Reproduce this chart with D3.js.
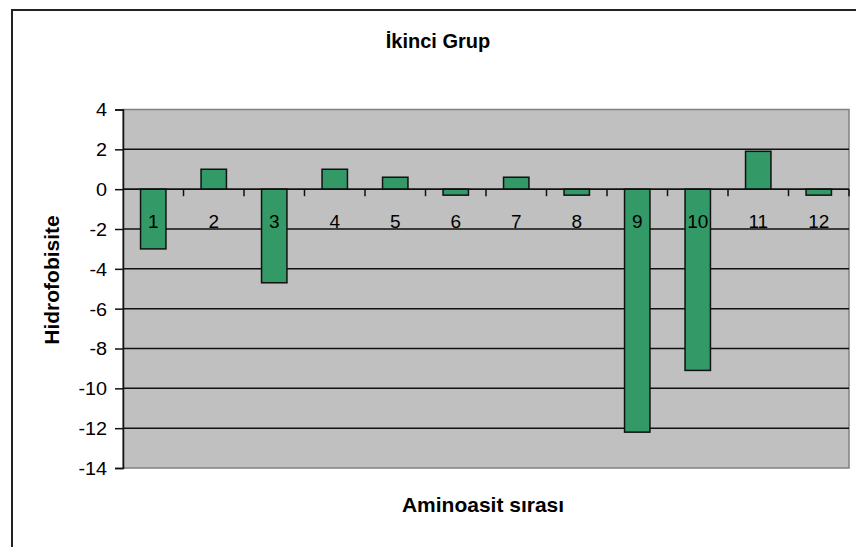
<!DOCTYPE html>
<html>
<head>
<meta charset="utf-8">
<script src="https://cdn.jsdelivr.net/npm/d3@7"></script>
<style>
  html, body { margin: 0; padding: 0; background: #fff; }
  svg { display: block; }
  text { font-family: "Liberation Sans", Arial, sans-serif; fill: #000; }
</style>
</head>
<body>
<svg id="chart" width="856" height="547"></svg>
<script>
// Hydrophobicity per amino-acid position
const positions = ["1", "2", "3", "4", "5", "6", "7", "8", "9", "10", "11", "12"];
const hydrophobicity = [-3.0, 1.0, -4.7, 1.0, 0.6, -0.3, 0.6, -0.3, -12.2, -9.1, 1.9, -0.3];
const yTicks = [4, 2, 0, -2, -4, -6, -8, -10, -12, -14];

const chartTitle = "İkinci Grup";
const xTitle = "Aminoasit sırası";
const yTitle = "Hidrofobisite";

const svg = d3.select("#chart");
const W = 856, H = 547;
const plot = { left: 123, right: 849, top: 109.5, bottom: 468 };

// outer chart frame (runs off the right/bottom edge)
svg.append("rect")
  .attr("x", 12).attr("y", 10)
  .attr("width", W).attr("height", H)
  .attr("fill", "#fff")
  .attr("stroke", "#222").attr("stroke-width", 2);

const x = d3.scaleBand()
  .domain(positions)
  .range([plot.left, plot.right])
  .paddingInner(0.58).paddingOuter(0.29);

const xCat = d3.scaleBand().domain(positions).range([plot.left, plot.right]);

const y = d3.scaleLinear()
  .domain([-14, 4])
  .range([plot.bottom, plot.top]);

// plot area background
svg.append("rect")
  .attr("x", plot.left).attr("y", plot.top)
  .attr("width", plot.right - plot.left).attr("height", plot.bottom - plot.top)
  .attr("fill", "#c0c0c0")
  .attr("stroke", "#808080").attr("stroke-width", 1.5);

// horizontal gridlines
svg.append("g")
  .selectAll("line")
  .data(yTicks.filter(d => d !== -14 && d !== 4))
  .join("line")
  .attr("x1", plot.left).attr("x2", plot.right)
  .attr("y1", d => y(d)).attr("y2", d => y(d))
  .attr("stroke", "#111").attr("stroke-width", 1.5);

// bars
svg.append("g")
  .selectAll("rect")
  .data(positions.map((p, i) => ({ p, v: hydrophobicity[i] })))
  .join("rect")
  .attr("x", d => x(d.p))
  .attr("width", x.bandwidth())
  .attr("y", d => y(Math.max(0, d.v)))
  .attr("height", d => Math.abs(y(d.v) - y(0)))
  .attr("fill", "#339966")
  .attr("stroke", "#111").attr("stroke-width", 1.5);

// y axis (plain hyphen for negatives)
const yAxis = svg.append("g")
  .attr("transform", `translate(${plot.left},0)`)
  .call(d3.axisLeft(y).tickValues(yTicks).tickSize(8).tickPadding(8).tickFormat(d => String(d)));
yAxis.select(".domain").attr("stroke", "#111").attr("stroke-width", 1.5);
yAxis.selectAll(".tick line").attr("stroke", "#111").attr("stroke-width", 1.5);
yAxis.selectAll(".tick text")
  .attr("font-size", 18)
  .attr("font-family", "Liberation Sans, Arial, sans-serif")
  .attr("fill", "#000")
  .attr("dy", "0.36em");
yAxis.selectAll(".tick text").each(function() {
  const t = d3.select(this);
  const len = this.getComputedTextLength();
  t.attr("textLength", len * 1.1).attr("lengthAdjust", "spacingAndGlyphs");
});

// x axis along zero, ticks at category boundaries
const boundaries = positions.slice(1).map(p => xCat(p));
svg.append("line")
  .attr("x1", plot.left).attr("x2", plot.right)
  .attr("y1", y(0)).attr("y2", y(0))
  .attr("stroke", "#111").attr("stroke-width", 1.5);
svg.append("g")
  .selectAll("line")
  .data(boundaries.concat([plot.right]))
  .join("line")
  .attr("x1", d => d).attr("x2", d => d)
  .attr("y1", y(0)).attr("y2", y(0) + 7)
  .attr("stroke", "#111").attr("stroke-width", 1.5);

// category labels
svg.append("g")
  .selectAll("text")
  .data(positions)
  .join("text")
  .attr("x", d => xCat(d) + xCat.bandwidth() / 2)
  .attr("y", y(-2) - 1)
  .attr("text-anchor", "middle")
  .attr("font-size", 19)
  .text(d => d);

// titles
svg.append("text")
  .attr("x", 438).attr("y", 48)
  .attr("text-anchor", "middle")
  .attr("font-size", 20).attr("font-weight", "bold")
  .text(chartTitle);

svg.append("text")
  .attr("x", 483).attr("y", 512)
  .attr("text-anchor", "middle")
  .attr("font-size", 21).attr("font-weight", "bold")
  .text(xTitle);

svg.append("text")
  .attr("transform", "translate(59,280) rotate(-90)")
  .attr("text-anchor", "middle")
  .attr("font-size", 21).attr("font-weight", "bold")
  .text(yTitle);
</script>
</body>
</html>
